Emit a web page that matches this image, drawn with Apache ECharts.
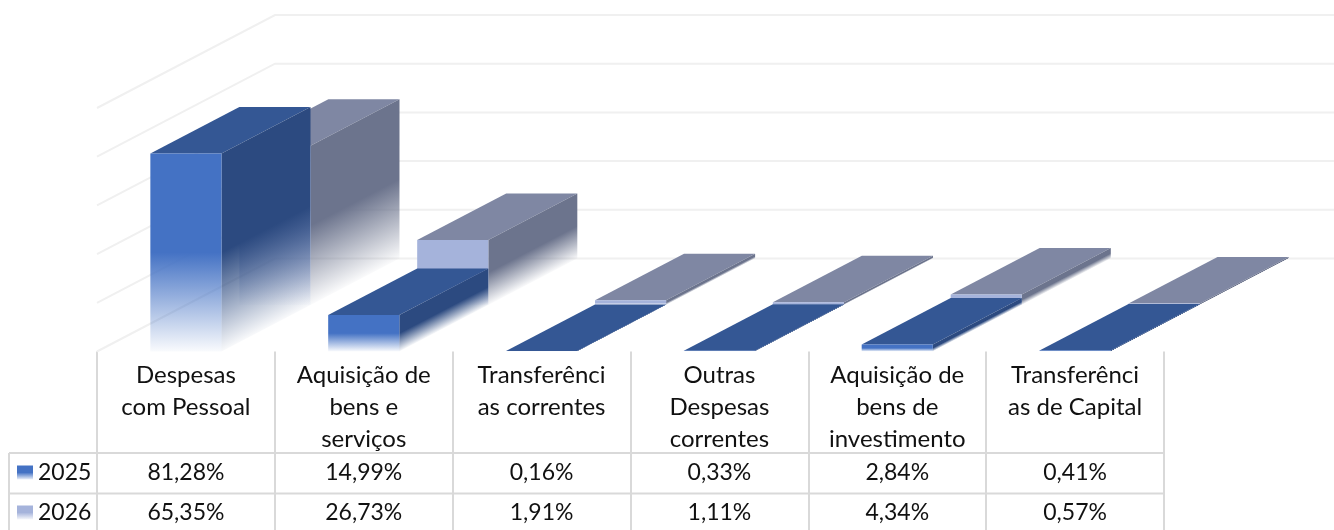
<!DOCTYPE html>
<html><head><meta charset="utf-8">
<style>html,body{margin:0;padding:0;background:#fff}#c{width:1334px;height:530px}</style>
<script src="https://cdn.jsdelivr.net/npm/echarts@6/dist/echarts.min.js"></script>
</head><body><div id="c"></div>
<script>
const categories = ['Despesas\ncom Pessoal','Aquisição de\nbens e\nserviços','Transferênci\nas correntes','Outras\nDespesas\ncorrentes','Aquisição de\nbens de\ninvestimento','Transferênci\nas de Capital'];
const values2025 = [81.28,14.99,0.16,0.33,2.84,0.41];
const values2026 = [65.35,26.73,1.91,1.11,4.34,0.57];
const yTicks = [0,20,40,60,80,100];

const FONT = 'Lato, "Open Sans", sans-serif';
const FS = 23, FS_HEAD = 24;
const GRID = {left:97, top:108, width:1067, height:243.5};
const DX = 89, DY = -46.5;
const GRID_COLOR = '#f0f0f0', TABLE_COLOR = '#d9d9d9';
const ROW_Y = [473, 513];
const palette = {
  '2025': {front:[68,114,196], side:[44,74,128], top:[52,87,148]},
  '2026': {front:[165,179,219], side:[108,116,141], top:[127,135,163]}
};
const rgba = (c,a)=>`rgba(${c[0]},${c[1]},${c[2]},${a})`;
const stops = c=>[
  {offset:0,color:rgba(c,1)},{offset:0.5,color:rgba(c,1)},
  {offset:0.8,color:rgba(c,0.42)},{offset:1,color:rgba(c,0.03)}
];
function fade(c,x,y,x2,y2){return {type:'linear',global:true,x,y,x2,y2,colorStops:stops(c)};}

function barRender(name, slot){
  const p = palette[name];
  return function(params, api){
    const i = api.value(0), v = api.value(1);
    const top = api.coord([i,v]), base = api.coord([i,0]);
    const w = api.size([1,0])[0]*0.4;
    const x0 = top[0]-w/2 + slot*DX, x1 = x0+w;
    const yB = base[1] + slot*DY, yT = top[1] + slot*DY;
    const h = yB-yT;
    // the fade on the side wall runs along the depth direction
    const len2 = DX*DX+DY*DY;
    const vx = h*DX*(-DY)/len2, vy = h*DX*DX/len2;
    return {type:'group',children:[
      {type:'polygon',shape:{points:[[x0,yT],[x1,yT],[x1+DX,yT+DY],[x0+DX,yT+DY]]},style:{fill:rgba(p.top,1)}},
      {type:'polygon',shape:{points:[[x1,yT],[x1+DX,yT+DY],[x1+DX,yB+DY],[x1,yB]]},
        style:{fill:fade(p.side,x1,yT,x1+vx,yT+vy)}},
      {type:'rect',shape:{x:x0,y:yT,width:w,height:h},style:{fill:fade(p.front,0,yT,0,yB)}}
    ]};
  };
}
function legendColor(c){return {type:'linear',x:0,y:0,x2:0,y2:1,colorStops:[
  {offset:0,color:rgba(c,1)},{offset:0.5,color:rgba(c,1)},{offset:1,color:rgba(c,0.1)}]};}
function fmt(v){return v.toFixed(2).replace('.',',')+'%';}

const option = {
  animation:false,
  backgroundColor:'#fff',
  grid:GRID,
  legend:{
    data:['2025','2026'],orient:'vertical',left:17,top:459,padding:0,itemWidth:16,itemHeight:14,itemGap:13,
    selectedMode:false,icon:'rect',
    textStyle:{fontFamily:FONT,fontSize:FS,color:'#111',lineHeight:27}
  },
  xAxis:{type:'category',data:categories,
    axisLine:{show:false},
    axisTick:{show:true,length:179,lineStyle:{color:TABLE_COLOR,width:2}},
    axisLabel:{interval:0,margin:8,fontFamily:FONT,fontSize:FS_HEAD,color:'#111',lineHeight:32,verticalAlign:'top'}},
  yAxis:{type:'value',min:0,max:100,interval:20,axisLine:{show:false},axisTick:{show:false},axisLabel:{show:false},splitLine:{show:false}},
  series:[
    {type:'custom',name:'walls',silent:true,z:1,data:yTicks.map(v=>[v]),encode:{y:0},
      renderItem(params,api){
        const y = api.coord([0,api.value(0)])[1], x = params.coordSys.x;
        return {type:'polyline',shape:{points:[[x,y],[x+2*DX,y+2*DY],[1334,y+2*DY]]},
          style:{fill:null,stroke:GRID_COLOR,lineWidth:2}};
      }},
    {type:'custom',name:'2026',z:2,itemStyle:{color:legendColor(palette['2026'].front)},
      data:values2026.map((v,i)=>[i,v]),encode:{x:0,y:1},renderItem:barRender('2026',1)},
    {type:'custom',name:'2025',z:3,itemStyle:{color:legendColor(palette['2025'].front)},
      data:values2025.map((v,i)=>[i,v]),encode:{x:0,y:1},renderItem:barRender('2025',0)},
    {type:'custom',name:'table',silent:true,z:4,data:categories.map((c,i)=>[i]),encode:{x:0},
      renderItem(params,api){
        const i = api.value(0), x = api.coord([i,0])[0];
        return {type:'group',children:[values2025[i],values2026[i]].map((v,r)=>({
          type:'text',style:{text:fmt(v),x,y:ROW_Y[r],align:'center',verticalAlign:'middle',
            font:`${FS}px ${FONT}`,fill:'#111'}}))};
      }}
  ],
  graphic:[
    {type:'line',z:0,shape:{x1:9,y1:453,x2:1164,y2:453},style:{stroke:TABLE_COLOR,lineWidth:2}},
    {type:'line',z:0,shape:{x1:9,y1:493.5,x2:1164,y2:493.5},style:{stroke:TABLE_COLOR,lineWidth:2}},
    {type:'line',z:0,shape:{x1:9,y1:453,x2:9,y2:530},style:{stroke:TABLE_COLOR,lineWidth:2}}
  ]
};
const chart = echarts.init(document.getElementById('c'),null,{renderer:'canvas'});
chart.setOption(option);
</script></body></html>
